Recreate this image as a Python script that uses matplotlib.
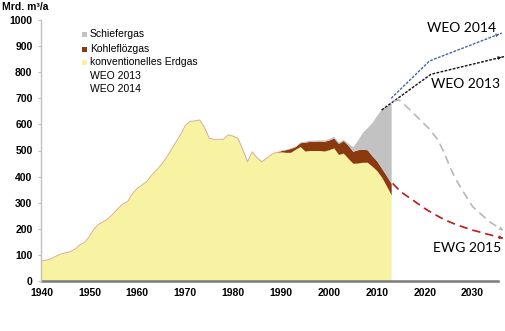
import numpy as np
import matplotlib
matplotlib.use("Agg")
import matplotlib.pyplot as plt
from matplotlib.patches import Rectangle

years = list(range(1940, 2014))
conventional = [77, 80, 85, 95, 103, 108, 112, 122, 138, 148,
                170, 200, 218, 228, 240, 258, 278, 295, 305, 335,
                355, 368, 382, 405, 425, 445, 470, 500, 530, 560,
                595, 612, 613, 617, 590, 547, 543, 543, 543, 560,
                555, 547, 505, 457, 495, 472, 457, 470, 485, 492,
                495, 493, 493, 505, 515, 498, 500, 500, 500, 498,
                503, 510, 485, 490, 470, 451, 452, 455, 455, 440,
                423, 398, 365, 330]
coalbed = [0] * 50 + [5, 10, 15, 10, 15, 34, 35, 35, 36, 37,
                      37, 38, 42, 48, 50, 46, 51, 50, 48, 40,
                      37, 34, 39, 44]
shale = [0] * 50 + [2, 2, 2, 3, 3, 4, 5, 5, 5, 5,
                    6, 6, 5, 5, 8, 18, 37, 65, 85, 128,
                    175, 228, 268, 308]

weo2013_x = [2011, 2021.3, 2036.6]
weo2013_y = [655, 792, 860]
weo2014_x = [2013, 2021, 2036.1]
weo2014_y = [700, 843, 950]
shale_fc_x = [2013.3, 2014.7, 2016.8, 2018.9, 2021.0, 2022.7, 2024.1, 2025.2, 2026.2, 2027.6, 2030.0, 2033.5, 2036.3]
shale_fc_y = [690, 693, 658, 620, 582, 542, 490, 440, 400, 355, 285, 227, 195]
ewg_x = [2013.3, 2015, 2017.5, 2020, 2021.7, 2024, 2025.9, 2028, 2030, 2033, 2036.3]
ewg_y = [374, 342, 310, 278, 259, 236, 221, 207, 195, 180, 164]

xticks = list(range(1940, 2031, 10))
yticks = list(range(0, 1001, 100))

legend_labels = ["Schiefergas", "Kohleflözgas", "konventionelles Erdgas", "WEO 2013", "WEO 2014"]
c_yellow = "#f7f3a3"
c_brown = "#8b3a10"
c_gray = "#c2c2c2"

W, H = 506, 331
fig = plt.figure(figsize=(W / 100, H / 100), dpi=100)
ax = fig.add_axes([41.5 / W, 1 - 281 / H, (498 - 41.5) / W, (281 - 20) / H])

y = np.array(years)
c1 = np.array(conventional, float)
c2 = c1 + np.array(coalbed, float)
c3 = c2 + np.array(shale, float)
ax.fill_between(y, 0, c1, color=c_yellow, lw=0)
ax.fill_between(y, c1, c2, color=c_brown, lw=0)
ax.fill_between(y, c2, c3, color=c_gray, lw=0)
ax.plot(y[:51], c1[:51], color="#d9ab8c", lw=0.7)

def arrow_line(xs, ys, color, dashes, lw):
    ax.plot(xs, ys, color=color, lw=lw, dashes=dashes, clip_on=False)
    ax.annotate("", xy=(xs[-1], ys[-1]), xytext=(xs[-2] + (xs[-1] - xs[-2]) * 0.7, ys[-2] + (ys[-1] - ys[-2]) * 0.7),
                arrowprops=dict(arrowstyle="-|>", color=color, lw=0, mutation_scale=7),
                annotation_clip=False)

arrow_line(weo2013_x, weo2013_y, "#111111", (2, 1), 1.0)
arrow_line(weo2014_x, weo2014_y, "#4a62a8", (2, 1), 1.0)
arrow_line(shale_fc_x, shale_fc_y, "#b8b8b8", (5, 3), 1.2)
arrow_line(ewg_x, ewg_y, "#c0191b", (5, 3), 1.2)

ax.set_xlim(1940, 2035.3)
ax.set_ylim(0, 1000)
ax.set_xticks(xticks)
ax.set_yticks(yticks)
for lab in ax.get_xticklabels() + ax.get_yticklabels():
    lab.set_fontfamily("Liberation Sans")
    lab.set_fontweight("bold")
    lab.set_fontsize(7.5)
ax.tick_params(axis="y", length=2.5, width=0.8, color="#bfbfbf", pad=4)
ax.tick_params(axis="x", length=0, pad=5)
for s in ["top", "right"]:
    ax.spines[s].set_visible(False)
ax.spines["left"].set_color("#bfbfbf")
ax.spines["left"].set_linewidth(1.0)
ax.spines["bottom"].set_color("#7a7a7a")
ax.spines["bottom"].set_linewidth(1.8)
ax.spines["left"].set_zorder(5)

fig.text(2 / W, 1 - 7 / H, "Mrd. m³/a", family="Liberation Sans", weight="bold", fontsize=7.5, va="center", ha="left")

for lbl, xx, yy in [("WEO 2014", 462, 28), ("WEO 2013", 466, 84), ("EWG 2015", 467, 248)]:
    fig.text(xx / W, 1 - yy / H, lbl, family="Lato", fontsize=10, ha="center", va="center")

rows = [34, 49, 62, 76, 89]
sq_colors = [c_gray, c_brown, c_yellow, None, None]
for lbl, ry, sc in zip(legend_labels, rows, sq_colors):
    if sc is not None:
        fig.patches.append(Rectangle((81.5 / W, 1 - (ry + 2.5) / H), 5 / W, 5 / H, transform=fig.transFigure,
                                     facecolor=sc, edgecolor="none"))
    fig.text(90 / W, 1 - ry / H, lbl, family="Liberation Sans", fontsize=7.5, ha="left", va="center")

fig.savefig("out.png", dpi=100)
